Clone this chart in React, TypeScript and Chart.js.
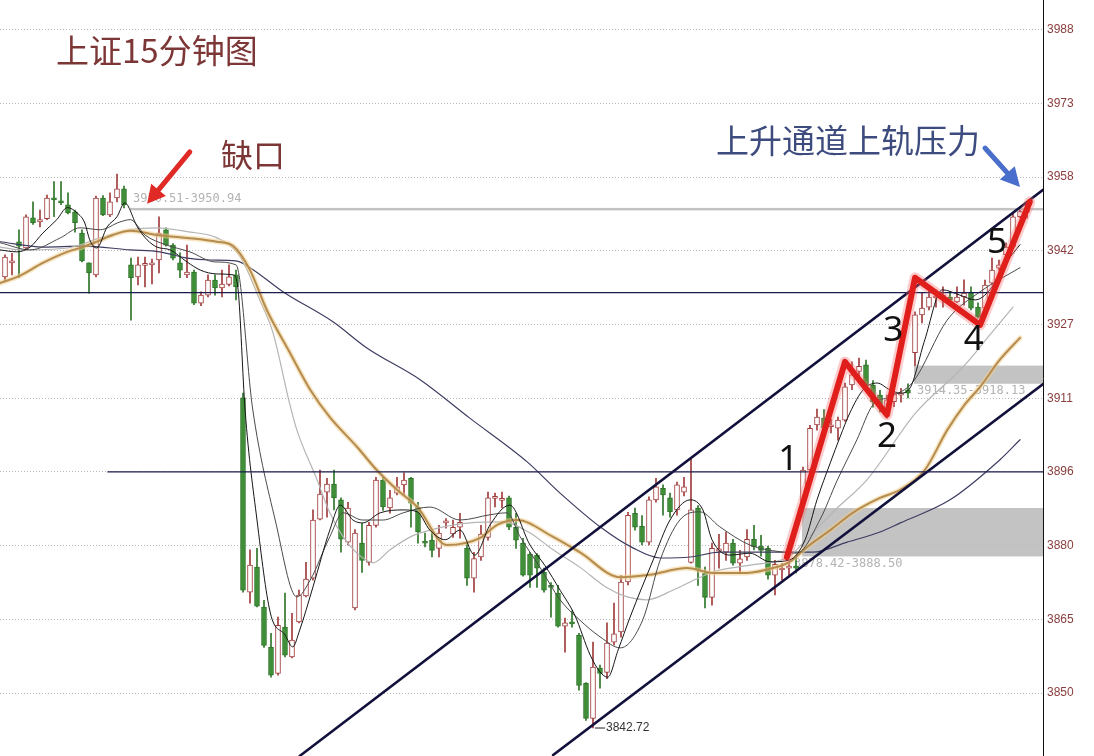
import React, { useEffect, useRef } from "react";
import { Chart, registerables } from "chart.js";
Chart.register(...registerables);

// ---------- OHLC (15-minute bars) ----------
const opens = [
  3936.6, 3939.5, 3943.9, 3942.6, 3948.9, 3948.0, 3948.7, 3952.8, 3952.2, 3951.6,
  3950.1, 3945.7, 3939.5, 3937.0, 3953.0, 3949.5, 3953.0, 3954.9, 3939.1, 3936.6,
  3939.0, 3939.1, 3940.1, 3946.4, 3943.2, 3939.5, 3937.0, 3937.6, 3931.1, 3932.8,
  3935.9, 3934.3, 3935.0, 3937.0, 3911.4, 3871.0, 3876.2, 3867.9, 3859.5, 3854.1,
  3863.7, 3857.5, 3864.8, 3870.2, 3873.9, 3886.2, 3891.8, 3893.5, 3890.2, 3881.4,
  3867.7, 3881.2, 3877.2, 3884.9, 3894.3, 3888.5, 3891.6, 3893.3, 3894.7, 3888.7,
  3881.6, 3881.8, 3880.1, 3885.4, 3883.1, 3884.5, 3880.1, 3873.9, 3878.3, 3882.4,
  3890.5, 3890.1, 3890.6, 3884.5, 3881.2, 3878.9, 3878.7, 3875.1, 3872.2, 3870.8,
  3863.9, 3864.6, 3862.0, 3852.0, 3844.7, 3855.2, 3854.3, 3860.6, 3862.7, 3873.1,
  3887.4, 3884.7, 3881.4, 3890.2, 3892.6, 3890.6, 3888.1, 3891.8, 3877.2, 3888.5,
  3874.9, 3869.9, 3879.5, 3879.3, 3881.2, 3877.0, 3878.3, 3882.0, 3880.6, 3880.1,
  3874.5, 3875.6, 3876.0, 3876.4, 3889.5, 3896.4, 3905.8, 3907.2, 3905.4, 3905.1,
  3906.8, 3914.1, 3916.9, 3918.3, 3914.1, 3912.0, 3908.3, 3910.6, 3912.0, 3913.1,
  3920.8, 3928.7, 3930.3, 3932.2, 3932.4, 3932.4, 3931.4, 3932.4, 3933.2, 3930.3,
  3930.1, 3935.3, 3938.4, 3941.2, 3942.8, 3949.1, 3950.0,
];
const highs = [
  3941.2, 3941.5, 3946.4, 3949.5, 3952.2, 3950.5, 3953.6, 3956.4, 3956.4, 3954.1,
  3950.5, 3946.4, 3939.5, 3953.4, 3953.5, 3954.1, 3958.0, 3955.5, 3940.5, 3940.7,
  3940.7, 3940.3, 3949.1, 3946.8, 3943.5, 3941.6, 3943.2, 3938.0, 3933.5, 3937.0,
  3937.0, 3938.0, 3939.1, 3938.0, 3912.4, 3879.8, 3880.1, 3869.3, 3862.4, 3865.8,
  3870.8, 3866.6, 3871.4, 3877.2, 3888.1, 3896.4, 3894.7, 3896.4, 3890.6, 3889.7,
  3884.0, 3885.3, 3885.5, 3894.9, 3895.0, 3892.2, 3894.9, 3895.8, 3894.9, 3889.7,
  3883.3, 3883.5, 3884.9, 3886.3, 3886.0, 3887.4, 3881.4, 3879.3, 3884.9, 3891.8,
  3891.6, 3891.8, 3891.0, 3887.4, 3882.2, 3879.3, 3879.0, 3876.0, 3873.0, 3872.4,
  3865.6, 3867.1, 3862.4, 3852.2, 3860.6, 3855.8, 3864.6, 3868.7, 3874.5, 3887.6,
  3888.5, 3886.9, 3890.8, 3894.7, 3893.3, 3891.6, 3893.9, 3894.9, 3898.9, 3889.0,
  3876.2, 3881.2, 3883.0, 3883.5, 3882.0, 3879.7, 3884.0, 3884.9, 3882.8, 3880.6,
  3877.6, 3877.0, 3877.0, 3878.42, 3897.0, 3905.7, 3909.1, 3909.0, 3907.0, 3907.4,
  3914.5, 3918.9, 3919.7, 3919.3, 3915.0, 3913.0, 3912.0, 3913.5, 3913.4, 3914.35,
  3929.3, 3933.2, 3933.9, 3933.9, 3934.5, 3933.5, 3934.5, 3936.0, 3934.5, 3931.2,
  3935.9, 3940.5, 3940.1, 3943.7, 3949.9, 3950.5, 3950.5,
];
const lows = [
  3935.8, 3937.0, 3936.4, 3942.2, 3947.5, 3947.0, 3948.5, 3949.1, 3951.6, 3949.7,
  3945.9, 3939.7, 3933.2, 3936.6, 3949.3, 3949.1, 3952.2, 3950.94, 3927.6, 3934.9,
  3934.5, 3935.1, 3937.4, 3943.0, 3940.1, 3936.4, 3936.4, 3930.8, 3930.6, 3932.4,
  3932.8, 3932.4, 3934.7, 3931.8, 3871.0, 3868.7, 3867.9, 3859.5, 3853.3, 3853.7,
  3857.5, 3857.3, 3864.6, 3870.0, 3873.5, 3886.0, 3886.6, 3888.1, 3879.3, 3880.8,
  3867.3, 3875.1, 3876.6, 3884.5, 3888.0, 3887.4, 3891.2, 3891.2, 3884.5, 3881.2,
  3880.4, 3878.3, 3878.3, 3884.3, 3882.4, 3882.2, 3872.4, 3871.0, 3877.6, 3881.8,
  3888.7, 3888.5, 3884.0, 3880.1, 3874.3, 3872.0, 3872.0, 3871.0, 3865.8, 3863.7,
  3858.5, 3863.7, 3850.6, 3844.3, 3842.72, 3851.0, 3853.0, 3860.0, 3861.6, 3872.5,
  3883.9, 3880.8, 3880.8, 3889.7, 3887.0, 3886.6, 3887.0, 3891.0, 3877.0, 3872.4,
  3867.7, 3868.3, 3876.0, 3877.6, 3876.6, 3875.1, 3877.6, 3879.8, 3878.5, 3873.7,
  3870.4, 3873.5, 3874.5, 3875.0, 3888.5, 3895.0, 3904.7, 3904.1, 3904.1, 3902.6,
  3906.5, 3913.1, 3915.8, 3913.6, 3909.5, 3908.5, 3907.2, 3909.6, 3910.5, 3911.4,
  3918.13, 3927.0, 3929.7, 3930.3, 3930.3, 3930.8, 3931.2, 3930.7, 3929.7, 3928.0,
  3929.7, 3934.9, 3938.0, 3940.8, 3942.6, 3948.9, 3948.8,
];
const closes = [
  3940.7, 3939.8, 3943.0, 3949.1, 3947.8, 3948.5, 3953.0, 3952.6, 3952.0, 3949.9,
  3947.8, 3939.9, 3937.4, 3953.0, 3949.5, 3952.2, 3954.9, 3951.6, 3936.4, 3939.1,
  3939.3, 3939.4, 3945.7, 3943.2, 3940.5, 3938.0, 3937.6, 3931.1, 3932.8, 3935.9,
  3934.3, 3935.1, 3936.6, 3934.5, 3871.4, 3876.6, 3868.1, 3859.9, 3853.7, 3864.1,
  3857.9, 3861.0, 3870.4, 3873.7, 3886.0, 3891.4, 3893.5, 3890.6, 3882.0, 3888.5,
  3883.3, 3877.6, 3884.9, 3894.3, 3888.7, 3890.6, 3892.9, 3894.3, 3889.5, 3883.5,
  3881.2, 3879.7, 3883.3, 3885.6, 3884.5, 3885.5, 3873.9, 3878.0, 3883.1, 3890.6,
  3890.7, 3890.3, 3884.5, 3881.8, 3874.5, 3874.5, 3876.0, 3871.4, 3872.0, 3863.9,
  3864.6, 3864.4, 3851.6, 3844.7, 3855.4, 3854.1, 3860.4, 3862.3, 3873.1, 3887.0,
  3884.5, 3881.4, 3890.2, 3892.9, 3891.2, 3887.7, 3893.3, 3892.9, 3888.1, 3875.6,
  3869.9, 3880.1, 3880.0, 3881.2, 3877.0, 3877.9, 3882.0, 3880.4, 3879.7, 3874.5,
  3876.8, 3876.0, 3876.2, 3876.0, 3896.4, 3905.1, 3907.4, 3905.1, 3905.6, 3906.8,
  3913.7, 3916.2, 3918.0, 3914.1, 3910.6, 3909.9, 3911.0, 3912.4, 3912.2, 3912.4,
  3928.7, 3930.1, 3932.4, 3932.4, 3932.6, 3931.8, 3932.4, 3933.2, 3930.1, 3928.2,
  3934.9, 3938.0, 3939.1, 3942.8, 3949.1, 3950.2, 3950.3,
];

// ---------- axis ----------
const yTickLabels = ["3988", "3973", "3958", "3942", "3927", "3911", "3896", "3880", "3865", "3850"];
const Y_TOP_TICK = 3988;
const Y_TICK_STEP = 138 / 9;
const Y_MAX = 3994.2;
const Y_MIN = 3836.9;
const X_MIN = -0.714;
const X_MAX = 148.286;

// ---------- moving averages: [bar index, value] ----------
const ma5 = [[-0.7,3942.2],[1.7,3941.8],[3.6,3942.8],[5.4,3945.7],[7.4,3948.5],[8.9,3951.0],[10.3,3949.9],[11.4,3947.8],[12.1,3944.3],[13.1,3942.6],[14.6,3947.0],[16.0,3949.1],[17.1,3952.0],[18.9,3947.0],[20.3,3944.3],[21.7,3942.8],[23.6,3942.2],[26,3939.7],[27.9,3938.0],[30.3,3937.2],[32.6,3937.0],[33.3,3933.9],[34.3,3908.9],[36,3886.0],[37.9,3866.7],[40,3862.1],[41.1,3859.6],[42.1,3863.1],[44,3872.1],[46.4,3883.9],[47.9,3889.1],[49.7,3886.0],[51.1,3885.4],[53.6,3887.5],[56.9,3888.1],[58.9,3887.7],[60.7,3883.9],[62.9,3881.9],[65,3883.9],[67.1,3878.7],[69.3,3885.0],[72.1,3889.1],[75,3880.8],[77.1,3876.6],[79.3,3871.4],[81.4,3866.2],[83.6,3857.9],[85,3854.4],[86.1,3853.3],[87.6,3859.0],[89.3,3865.8],[92.6,3877.7],[95,3886.0],[97.9,3890.2],[99.7,3888.1],[101,3881.9],[103.6,3878.7],[106.4,3879.1],[109.3,3877.3],[112.1,3877.7],[114.3,3881.9],[116,3890.2],[117.9,3897.9],[119.3,3903.3],[120.7,3908.3],[122.6,3913.1],[124.6,3914.5],[126.4,3913.1],[127.9,3912.4],[129.3,3913.5],[131.4,3923.5],[133.9,3933.9],[136.4,3932.8],[138.6,3931.8],[140.7,3933.9],[143.1,3939.7],[145,3943.3]];
const ma10 = [[-0.7,3943.7],[3.6,3942.2],[7.9,3944.7],[10.7,3946.8],[13.6,3946.4],[16.4,3948.0],[17.9,3948.5],[20,3945.3],[22.9,3943.3],[26.4,3941.8],[30,3939.7],[33,3939.1],[35.4,3908.9],[38.6,3886.0],[41.7,3870.0],[43.6,3873.5],[46.4,3882.5],[48.3,3887.5],[51.1,3886.0],[54,3886.0],[56.9,3887.5],[60.7,3888.7],[65,3886.0],[69.3,3887.1],[71.7,3887.5],[73.6,3882.5],[76.4,3876.2],[79.3,3869.4],[82.1,3865.2],[85,3861.7],[87.9,3859.4],[91.1,3865.2],[93.6,3877.7],[96.4,3886.0],[99.3,3887.7],[102.1,3884.6],[106.4,3880.8],[110.7,3879.4],[113.1,3879.1],[116.4,3886.0],[118.9,3894.3],[121.7,3902.7],[124,3910.0],[126.4,3911.6],[129.7,3914.7],[134.6,3927.6],[139.3,3933.5],[145,3938.5]];
const ma20 = [[-0.7,3942.8],[2.1,3942.2],[8.9,3942.6],[13.6,3944.7],[17.9,3946.4],[21.7,3946.8],[26,3946.0],[30.3,3944.7],[33.6,3940.8],[36.4,3931.8],[38.3,3924.9],[40.7,3910.0],[41.7,3904.7],[44.6,3894.3],[46.4,3887.5],[48.3,3882.5],[50.3,3879.1],[52.6,3877.1],[55,3879.8],[57.9,3882.5],[60.7,3883.9],[66.4,3885.4],[71.1,3885.6],[75,3883.3],[78.3,3879.8],[82.1,3876.2],[86,3871.9],[88.9,3870.0],[91.7,3869.4],[95.4,3871.4],[99.3,3874.1],[102.1,3875.6],[106.4,3876.6],[112.1,3878.5],[114,3881.2],[118.6,3888.1],[123.1,3894.3],[130.1,3908.3],[136.9,3917.9],[140.7,3924.5],[144,3930.3]];
const ma30 = [[-0.7,3935.3],[2.1,3936.8],[5.4,3939.5],[8.9,3941.8],[11.1,3942.8],[13.1,3943.9],[15.4,3945.3],[17.9,3946.2],[21.7,3945.3],[26,3944.7],[30.3,3943.9],[32.6,3943.0],[35,3938.0],[37.4,3929.7],[40.7,3920.8],[43.6,3913.1],[46.4,3907.4],[50.3,3901.2],[53.1,3896.4],[56,3892.3],[58.9,3888.7],[63.1,3880.8],[67.9,3882.3],[70.3,3885.0],[73.1,3886.0],[78.3,3882.5],[82.1,3879.3],[87.9,3874.1],[92.1,3874.6],[97.4,3876.0],[101.1,3875.0],[106,3875.0],[109.7,3876.0],[112.1,3877.3],[114.6,3880.4],[117.9,3883.9],[121.1,3887.5],[125,3890.6],[127.9,3892.3],[131.4,3896.4],[134.6,3904.7],[137.1,3910.0],[139.3,3913.7],[142.1,3919.3],[145,3923.9]];
const ma60 = [[-0.7,3943.9],[5.4,3942.8],[11.1,3943.0],[17.9,3942.2],[22.1,3941.8],[26,3940.5],[29.3,3940.1],[33,3939.9],[35,3938.5],[39.7,3933.5],[46.9,3927.2],[51.7,3921.8],[59.3,3915.2],[66.4,3907.2],[74.6,3898.1],[79.3,3891.6],[85,3884.6],[89.7,3880.2],[93.6,3878.1],[97.9,3878.3],[102.1,3879.3],[110.7,3879.3],[115.4,3879.3],[120.3,3881.4],[125,3883.5],[127.9,3885.4],[135,3890.2],[142.1,3898.5],[145,3902.7]];

// ---------- drawn study lines ----------
const levelUpper = [[X_MIN, 3933.3], [X_MAX, 3933.3]];
const levelLower = [[14.7, 3896.0], [X_MAX, 3896.0]];
const channelUpper = [[42.1, 3836.9], [148.3, 3954.7]];
const channelLower = [[78.3, 3837.1], [148.3, 3914.3]];
const waveLine = [[111.7, 3878.3], [120, 3918.9], [126, 3907.9], [130, 3936.4], [139.3, 3926.6], [146.4, 3952.2]];
const waveLabels = ["1", "2", "3", "4", "5"];
const waveLabelPos = [[111.9, 3898.5], [126, 3903.3], [126.9, 3925.3], [138.4, 3923.5], [141.7, 3943.7]];

// price gaps (start bar, lower, upper)
const gapStart = [18, 114, 130];
const gapLow = [3950.51, 3878.42, 3914.35];
const gapHigh = [3950.94, 3888.5, 3918.13];

const lowMarkIndex = 84;
const lowMarkValue = 3842.72;

const gapArrowFrom = [26.4, 3962.6];
const gapArrowTo = [20.3, 3951.8];
const railArrowFrom = [140, 3963.4];
const railArrowTo = [145, 3955.3];

const titleText = "上证15分钟图";
const gapText = "缺口";
const railText = "上升通道上轨压力";

function drawArrow(ctx: CanvasRenderingContext2D, x1: number, y1: number, x2: number, y2: number, color: string, w: number, hl: number, hw: number) {
  const a = Math.atan2(y2 - y1, x2 - x1);
  const bx = x2 - hl * Math.cos(a);
  const by = y2 - hl * Math.sin(a);
  ctx.save();
  ctx.strokeStyle = color;
  ctx.fillStyle = color;
  ctx.lineWidth = w;
  ctx.lineCap = "round";
  ctx.beginPath();
  ctx.moveTo(x1, y1);
  ctx.lineTo(bx, by);
  ctx.stroke();
  ctx.beginPath();
  ctx.moveTo(x2, y2);
  ctx.lineTo(bx + (hw / 2) * Math.sin(a), by - (hw / 2) * Math.cos(a));
  ctx.lineTo(bx - (hw / 2) * Math.sin(a), by + (hw / 2) * Math.cos(a));
  ctx.closePath();
  ctx.fill();
  ctx.restore();
}

export default function App() {
  const ref = useRef<HTMLCanvasElement>(null);

  useEffect(() => {
    document.body.style.margin = "0";
    const canvas = ref.current;
    if (!canvas) return;
    const idx = opens.map((_, i) => i);
    const isUp = idx.map((i) => closes[i] >= opens[i]);
    const UP_EDGE = "#a03c3c";
    const DOWN_FILL = "#3f8f38";
    const DOWN_EDGE = "#2f7529";

    const pts = (arr: number[][]) => arr.map(([x, y]) => ({ x, y }));
    const line = (label: string, arr: number[][], color: string, width: number, order: number, smooth = true) => ({
      type: "line" as const,
      label,
      data: pts(arr),
      borderColor: color,
      backgroundColor: color,
      borderWidth: width,
      pointRadius: 0,
      fill: false,
      order,
      cubicInterpolationMode: smooth ? ("monotone" as const) : ("default" as const),
      tension: 0,
      borderJoinStyle: "round" as const,
      borderCapStyle: "round" as const,
    });

    const gapPlugin = {
      id: "gaps",
      beforeDatasetsDraw(c: any) {
        const { ctx, chartArea, scales } = c;
        const x = scales.x, y = scales.y;
        ctx.save();
        gapStart.forEach((s, k) => {
          const left = x.getPixelForValue(s) - 1;
          const top = y.getPixelForValue(gapHigh[k]);
          const bot = y.getPixelForValue(gapLow[k]);
          const h = Math.max(bot - top, 2.5);
          ctx.fillStyle = k === 0 ? "#c2c2c2" : "rgba(185,185,185,0.85)";
          ctx.fillRect(left, top, chartArea.right - left, h);
          ctx.font = '12px "DejaVu Sans Mono"';
          ctx.fillStyle = "#b3b3b3";
          ctx.textBaseline = "middle";
          ctx.textAlign = "left";
          const label = `${gapLow[k].toFixed(2)}-${gapHigh[k].toFixed(2)}`;
          if (k === 0) ctx.fillText(label, left + 3, top - 9);
          else if (k === 1) ctx.fillText(label, left - 8, top + h + 7);
          else ctx.fillText(label, left + 3, top + h + 7);
        });
        ctx.restore();
      },
    };

    const bgPlugin = {
      id: "bg",
      beforeDraw(c: any) {
        const ctx = c.ctx;
        ctx.save();
        ctx.fillStyle = "#ffffff";
        ctx.fillRect(0, 0, c.width, c.height);
        ctx.restore();
      },
    };

    const notePlugin = {
      id: "notes",
      afterDatasetsDraw(c: any) {
        const { ctx, scales } = c;
        const x = scales.x, y = scales.y;
        ctx.save();
        // low mark
        const lx = x.getPixelForValue(lowMarkIndex);
        const ly = y.getPixelForValue(lowMarkValue);
        ctx.strokeStyle = "#222";
        ctx.lineWidth = 1;
        ctx.beginPath();
        ctx.moveTo(lx + 2, ly);
        ctx.lineTo(lx + 12, ly);
        ctx.stroke();
        ctx.fillStyle = "#333";
        ctx.font = '12px "Liberation Sans"';
        ctx.textBaseline = "middle";
        ctx.textAlign = "left";
        ctx.fillText(lowMarkValue.toFixed(2), lx + 13, ly);

        // wave numbers
        ctx.font = '35px "Noto Sans"';
        ctx.fillStyle = "#111";
        ctx.textAlign = "center";
        waveLabels.forEach((t, k) => {
          ctx.fillText(t, x.getPixelForValue(waveLabelPos[k][0]), y.getPixelForValue(waveLabelPos[k][1]));
        });

        // arrows
        drawArrow(ctx, x.getPixelForValue(gapArrowFrom[0]), y.getPixelForValue(gapArrowFrom[1]),
          x.getPixelForValue(gapArrowTo[0]), y.getPixelForValue(gapArrowTo[1]), "#e02a26", 5, 18, 19);
        drawArrow(ctx, x.getPixelForValue(railArrowFrom[0]), y.getPixelForValue(railArrowFrom[1]),
          x.getPixelForValue(railArrowTo[0]), y.getPixelForValue(railArrowTo[1]), "#4a6ecb", 5, 19, 20);

        // titles
        ctx.textAlign = "left";
        ctx.textBaseline = "middle";
        ctx.font = '33px "Noto Sans CJK SC"';
        ctx.fillStyle = "#7d3636";
        ctx.fillText(titleText, 56, 50);
        ctx.font = '32px "Noto Sans CJK SC"';
        ctx.fillText(gapText, 221, 155);
        ctx.fillStyle = "#3d4b7e";
        ctx.font = '33px "Noto Sans CJK SC"';
        ctx.fillText(railText, 716, 140);
        ctx.restore();
      },
    };

    const chart = new Chart(canvas, {
      type: "bar",
      data: {
        datasets: [
          {
            type: "bar",
            label: "wick",
            data: idx.map((i) => ({ x: i, y: [lows[i], highs[i]] })),
            backgroundColor: idx.map((i) => (isUp[i] ? UP_EDGE : DOWN_EDGE)),
            borderWidth: 0,
            barThickness: 1,
            grouped: false,
            order: 10,
          } as any,
          {
            type: "bar",
            label: "body",
            data: idx.map((i) => ({ x: i, y: [opens[i], closes[i]] })),
            backgroundColor: idx.map((i) => (isUp[i] ? "#ffffff" : DOWN_FILL)),
            borderColor: idx.map((i) => (isUp[i] ? UP_EDGE : DOWN_EDGE)),
            borderWidth: 1,
            borderSkipped: false,
            barThickness: 5,
            minBarLength: 2,
            grouped: false,
            order: 9,
          } as any,
          line("MA60", ma60, "#3d3d62", 1.2, 8),
          line("MA20", ma20, "#b4b4b4", 1.2, 7),
          { ...line("MA30halo", ma30, "rgba(240,205,140,0.55)", 5, 6) },
          line("MA30", ma30, "#b58c50", 2, 5),
          line("MA10", ma10, "#4a4a4a", 1, 4),
          line("MA5", ma5, "#161616", 1, 3),
          line("lvlU", levelUpper, "#1b1b4d", 1.3, 2, false),
          line("lvlL", levelLower, "#1b1b4d", 1.3, 2, false),
          line("chU", channelUpper, "#11113c", 2.6, 2, false),
          line("chL", channelLower, "#11113c", 2.6, 2, false),
          line("waveHalo", waveLine, "rgba(245,110,110,0.35)", 11, 1, false),
          line("wave", waveLine, "#e01f1c", 6, 0, false),
        ] as any,
      },
      options: {
        responsive: false,
        maintainAspectRatio: false,
        animation: false,
        events: [],
        layout: { padding: 0 },
        plugins: { legend: { display: false }, tooltip: { enabled: false } },
        scales: {
          x: {
            type: "linear",
            min: X_MIN,
            max: X_MAX,
            offset: false,
            display: false,
            grid: { display: false, offset: false },
          },
          y: {
            type: "linear",
            position: "right",
            min: Y_MIN,
            max: Y_MAX,
            afterBuildTicks: (scale: any) => {
              scale.ticks = yTickLabels.map((_, k) => ({ value: Y_TOP_TICK - k * Y_TICK_STEP }));
            },
            afterFit: (scale: any) => {
              scale.width = 51;
              scale.paddingTop = 0;
              scale.paddingBottom = 0;
            },
            ticks: {
              callback: (_v: any, i: number) => yTickLabels[i],
              color: "#8a3d3d",
              font: { family: "Liberation Sans", size: 12 },
              padding: 4,
            },
            grid: { color: "#b9b9b9", lineWidth: 1, drawTicks: false },
            border: { display: true, color: "#111", width: 1, dash: [1, 2] },
          },
        },
      } as any,
      plugins: [bgPlugin, gapPlugin, notePlugin],
    });
    return () => chart.destroy();
  }, []);

  return (
    <div style={{ width: 1094, height: 756, position: "relative", background: "#fff" }}>
      <canvas ref={ref} width={1094} height={756} style={{ width: 1094, height: 756, display: "block" }} />
    </div>
  );
}
